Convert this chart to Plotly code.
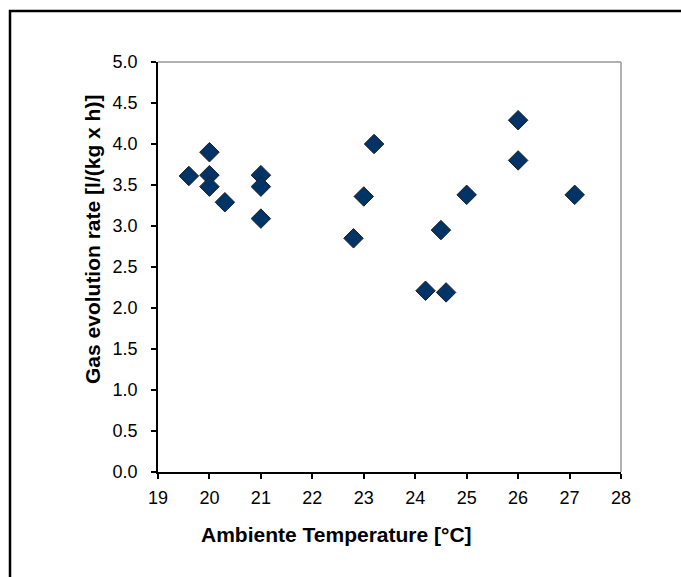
import plotly.graph_objects as go

# Data
temperature = [19.6, 20.0, 20.0, 20.0, 20.3, 21.0, 21.0, 21.0, 22.8, 23.0, 23.2,
               24.2, 24.5, 24.6, 25.0, 26.0, 26.0, 27.1]
gas_rate = [3.61, 3.90, 3.62, 3.48, 3.29, 3.62, 3.48, 3.09, 2.85, 3.36, 4.00,
            2.21, 2.95, 2.19, 3.38, 4.29, 3.80, 3.38]

x_ticks = [19, 20, 21, 22, 23, 24, 25, 26, 27, 28]
y_ticks = [0.0, 0.5, 1.0, 1.5, 2.0, 2.5, 3.0, 3.5, 4.0, 4.5, 5.0]

x_title = "Ambiente Temperature [°C]"
y_title = "Gas evolution rate [l/(kg x h)]"

W, H = 681, 577
L, R, T, B = 158, 60, 62, 105
pw, ph = W - L - R, H - T - B

def px_x(p):
    return (p - L) / pw

def px_y(p):
    return (H - B - p) / ph

font_family = "Liberation Sans, Arial, sans-serif"

fig = go.Figure()
fig.add_trace(go.Scatter(
    x=temperature, y=gas_rate, mode="markers",
    marker=dict(symbol="diamond", size=15, color="#003366",
                line=dict(color="#222222", width=1)),
    showlegend=False, cliponaxis=False,
))

fig.update_layout(
    width=W, height=H,
    margin=dict(l=L, r=R, t=T, b=B),
    paper_bgcolor="white", plot_bgcolor="white",
    font=dict(family=font_family, size=18, color="black"),
    xaxis=dict(range=[19, 28], tickvals=x_ticks, ticktext=[str(v) for v in x_ticks],
               ticks="outside", ticklen=5, tickwidth=1.5, tickcolor="black",
               ticklabelstandoff=4,
               showline=True, linecolor="black", linewidth=1.5,
               showgrid=False, zeroline=False, fixedrange=True),
    yaxis=dict(range=[0, 5], tickvals=y_ticks, ticktext=[f"{v:.1f}" for v in y_ticks],
               ticks="outside", ticklen=5, tickwidth=1.5, tickcolor="black",
               ticklabelstandoff=10,
               showline=True, linecolor="black", linewidth=1.5,
               showgrid=False, zeroline=False, fixedrange=True),
    shapes=[
        # gray top/right border of the plot area
        dict(type="line", xref="paper", yref="paper", x0=0, x1=1, y0=1, y1=1,
             line=dict(color="#999999", width=1.5), layer="below"),
        dict(type="line", xref="paper", yref="paper", x0=1, x1=1, y0=0, y1=1,
             line=dict(color="#999999", width=1.5), layer="below"),
        # outer chart frame: only the left and top edges fall inside the picture
        dict(type="rect", xref="paper", yref="paper",
             x0=px_x(10), x1=px_x(720), y0=px_y(620), y1=px_y(11),
             line=dict(color="black", width=2.5), fillcolor="rgba(0,0,0,0)"),
    ],
    annotations=[
        dict(text=f"<b>{x_title}</b>", xref="paper", yref="paper",
             x=px_x(336), y=px_y(534), showarrow=False,
             font=dict(size=21, family=font_family, color="black"),
             xanchor="center", yanchor="middle"),
        dict(text=f"<b>{y_title}</b>", xref="paper", yref="paper",
             x=px_x(92), y=px_y(240), showarrow=False, textangle=-90,
             font=dict(size=21, family=font_family, color="black"),
             xanchor="center", yanchor="middle"),
    ],
)

fig.write_html("out.html")
